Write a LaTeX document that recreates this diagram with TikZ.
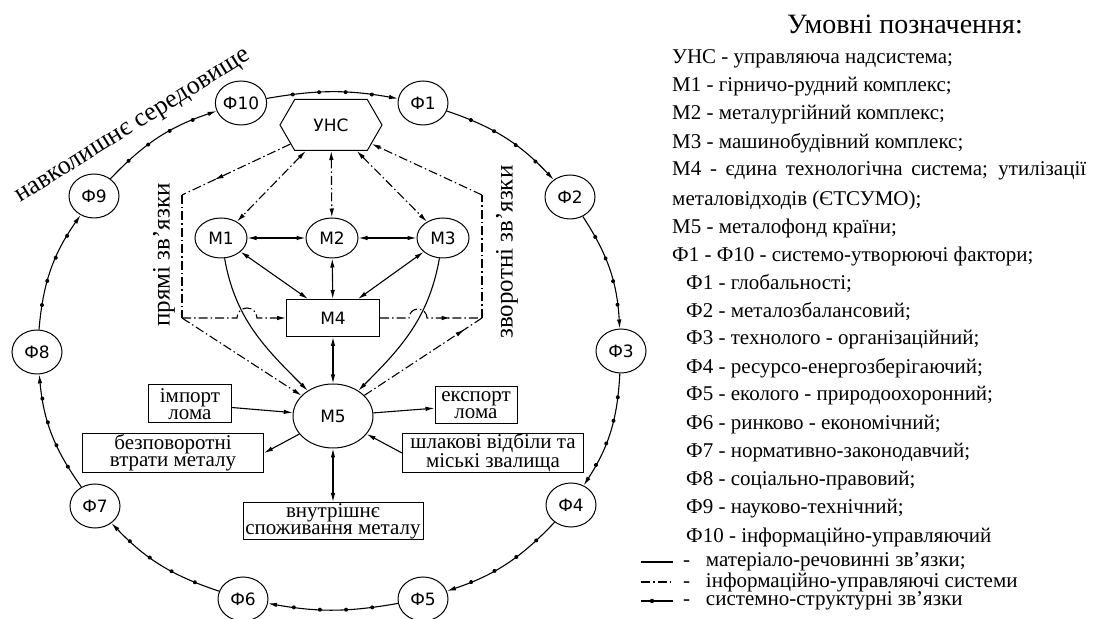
\documentclass[tikz,border=0pt]{standalone}
\usepackage{fontspec}
\setmainfont{Liberation Serif}
\newfontfamily\drawfont{DejaVu Sans}
\usetikzlibrary{arrows.meta, positioning, shapes.geometric, shapes.symbols, decorations.markings}

\begin{document}
\begin{tikzpicture}[x=1pt, y=1pt,
  fnode/.style={draw,ellipse,line width=1pt,fill=white,minimum width=50pt,
  minimum height=44pt,inner sep=0pt,font=\drawfont\fontsize{17}{17}\selectfont},
  mnode/.style={draw,ellipse,line width=1pt,minimum width=52pt,
  minimum height=40pt,inner sep=0pt,font=\drawfont\fontsize{17}{17}\selectfont},
  box/.style={draw,line width=1pt,align=center,inner sep=0pt,
  font=\fontsize{21}{17}\selectfont},
  leg/.style={anchor=west,inner sep=0pt,font=\fontsize{21}{21}\selectfont},
  tip/.style={-{Latex[length=9pt,width=4.5pt]}},
  tips/.style={{Latex[length=9pt,width=4.5pt]}-{Latex[length=9pt,width=4.5pt]}},
  matl/.style={line width=1.1pt},
  infl/.style={line width=1.1pt,dash pattern=on 9pt off 3pt on 1.5pt off 3pt},
  sysl/.style={line width=1.1pt,-{Latex[length=9pt,width=4.5pt]},postaction={decorate},
  decoration={markings,mark=between positions 0.2 and 0.8 step 0.2 with {\fill (0,0) circle (2pt);}}},
  midtip/.style={postaction={decorate},
  decoration={markings,mark=at position #1 with {\arrow{Latex[length=9pt,width=4.5pt]}}}},
]
\useasboundingbox (0,0) rectangle (1099,618);

% factors
\node[fnode] (f1) at (423,515) {Ф1};
\node[fnode] (f2) at (570,421) {Ф2};
\node[fnode] (f3) at (621,267) {Ф3};
\node[fnode] (f4) at (571,113) {Ф4};
\node[fnode] (f5) at (423,19)  {Ф5};
\node[fnode] (f6) at (243,19)  {Ф6};
\node[fnode] (f7) at (95,112)  {Ф7};
\node[fnode] (f8) at (37,266)  {Ф8};
\node[fnode] (f9) at (94,422)  {Ф9};
\node[fnode] (f10) at (241,515) {Ф10};

\draw[sysl] (f10) to[bend left=10] (f1);
\draw[sysl] (f1) to[bend left=14] (f2);
\draw[sysl] (f2) to[bend left=15] (f3);
\draw[sysl] (f3) to[bend left=15] (f4);
\draw[sysl] (f4) to[bend left=14] (f5);
\draw[sysl] (f5) to[bend left=10] (f6);
\draw[sysl] (f6) to[bend left=14] (f7);
\draw[sysl] (f7) to[bend left=15] (f8);
\draw[sysl] (f8) to[bend left=15] (f9);
\draw[sysl] (f9) to[bend left=14] (f10);

\node[rotate=32,font=\fontsize{26}{26}\selectfont] (env) at (134,490) {навколишнє середовище};

% system
\node[draw,signal,signal to=west and east,signal pointer angle=120,line width=1pt,
  minimum width=102pt,minimum height=51pt,inner sep=0pt,
  font=\drawfont\fontsize{17}{17}\selectfont] (unc) at (331,493) {УНС};
\node[mnode] (m1) at (221,380) {М1};
\node[mnode] (m2) at (332,380) {М2};
\node[mnode] (m3) at (443,380) {М3};
\node[draw,line width=1pt,minimum width=93pt,minimum height=37pt,
  font=\drawfont\fontsize{17}{17}\selectfont] (m4) at (333,300) {М4};
\node[mnode,minimum width=80pt,minimum height=64pt] (m5) at (333,202) {М5};

\node[box,minimum width=83pt,minimum height=38pt] (import) at (190,214) {імпорт\\лома};
\node[box,minimum width=181pt,minimum height=39pt] (bezp) at (173,165) {безповоротні\\втрати металу};
\node[box,minimum width=180pt,minimum height=37pt] (vnut) at (333,97) {внутрішнє\\споживання металу};
\node[box,minimum width=82pt,minimum height=37pt] (export) at (476,213) {експорт\\лома};
\node[box,minimum width=181pt,minimum height=37pt] (shlak) at (493,165) {шлакові відбіли та\\міські звалища};

\node[rotate=90,font=\fontsize{25}{25}\selectfont] (direct) at (164,363) {прямі зв’язки};
\node[rotate=90,font=\fontsize{25}{25}\selectfont] (reverse) at (507,366) {зворотні зв’язки};

\coordinate (l1) at (182,423);
\coordinate (l2) at (182,300);
\coordinate (r1) at (482,423);
\coordinate (r2) at (482,300);
\coordinate (hopl) at (237,300);
\coordinate (hopr) at (409,300);

% material links
\draw[matl,tips] (m1) -- (m2);
\draw[matl,tips] (m2) -- (m3);
\draw[matl,tips] (m1) -- ([xshift=-25pt]m4.north);
\draw[matl,tips] (m2) -- (m4);
\draw[matl,tips] (m3) -- ([xshift=25pt]m4.north);
\draw[matl,tips] (m4) -- (m5);
\draw[matl,tip] (m1) to[out=-80,in=135] (m5);
\draw[matl,tip] (m3) to[out=-100,in=45] (m5);
\draw[matl,tip] (import) -- (m5);
\draw[matl,tip] (m5) -- (export);
\draw[matl,tip] (m5) -- (bezp.east);
\draw[matl,tip] (shlak.west) -- (m5);
\draw[matl,tips] (m5) -- (vnut);

% control links
\draw[infl,tips] (unc) -- (m1);
\draw[infl,tips] (unc) -- (m2);
\draw[infl,tips] (unc) -- (m3);
\draw[infl,midtip=0.7] (unc) -- (l1);
\draw[infl] (l1) -- (l2);
\draw[infl,tip] (l2) -- (hopl) arc[start angle=180,end angle=0,radius=10] -- (m4);
\draw[infl,tip] (l2) -- (m5);
\draw[infl,midtip=0.72] (m4) -- (hopr) arc[start angle=180,end angle=0,radius=9] -- (r2);
\draw[infl,midtip=0.85] (m5) -- (r2);
\draw[infl] (r2) -- (r1);
\draw[infl,tip] (r1) -- (unc);

% legend
\node[font=\fontsize{28}{28}\selectfont] (title) at (905,594) {Умовні позначення:};
\node[leg] (lunc) at (672,559) {УНС - управляюча надсистема;};
\node[leg] (lm1) at (672,531) {М1 - гірничо-рудний комплекс;};
\node[leg] (lm2) at (672,503) {М2 - металургійний комплекс;};
\node[leg] (lm3) at (672,475) {М3 - машинобудівний комплекс;};
\node[leg] (lm4) at (672,447) {\makebox[414pt][s]{М4 - єдина технологічна система; утилізації}};
\node[leg] (lm4b) at (672,418) {металовідходів (ЄТСУМО);};
\node[leg] (lm5) at (672,390) {М5 - металофонд країни;};
\node[leg] (lf) at (672,362) {Ф1 - Ф10 - системо-утворюючі фактори;};
\node[leg] (lf1) at (686,334) {Ф1 - глобальності;};
\node[leg] (lf2) at (686,306) {Ф2 - металозбалансовий;};
\node[leg] (lf3) at (686,278) {Ф3 - технолого - організаційний;};
\node[leg] (lf4) at (686,250) {Ф4 - ресурсо-енергозберігаючий;};
\node[leg] (lf5) at (686,222) {Ф5 - еколого - природоохоронний;};
\node[leg] (lf6) at (686,193) {Ф6 - ринково - економічний;};
\node[leg] (lf7) at (686,165) {Ф7 - нормативно-законодавчий;};
\node[leg] (lf8) at (686,137) {Ф8 - соціально-правовий;};
\node[leg] (lf9) at (686,109) {Ф9 - науково-технічний;};
\node[leg] (lf10) at (686,81) {Ф10 - інформаційно-управляючий};

\draw[matl] (641,56) -- (673,56);
\draw[infl] (641,36) -- (673,36);
\draw[matl] (641,17) -- (673,17);
\fill (652,17) circle (2.2pt);
\node[leg] (lmat) at (683,56) {-\ \ \ матеріало-речовинні зв’язки;};
\node[leg] (linf) at (683,36) {-\ \ \ інформаційно-управляючі системи};
\node[leg] (lsys) at (683,17) {-\ \ \ системно-структурні зв’язки};
\end{tikzpicture}
\end{document}
